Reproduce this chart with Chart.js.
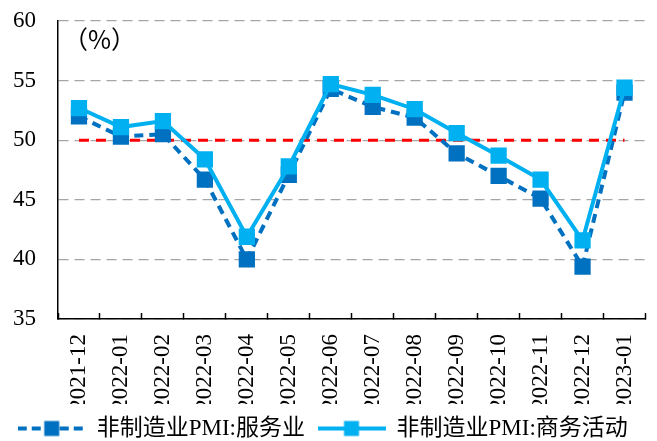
<!DOCTYPE html>
<html>
<head>
<meta charset="utf-8">
<script src="https://cdn.jsdelivr.net/npm/chart.js@4.4.0/dist/chart.umd.min.js"></script>
<style>
  body { margin: 0; background: #fff; }
</style>
</head>
<body>
<canvas id="pmiChart" width="657" height="441"></canvas>
<script>
const months = ["2021-12", "2022-01", "2022-02", "2022-03", "2022-04", "2022-05", "2022-06",
  "2022-07", "2022-08", "2022-09", "2022-10", "2022-11", "2022-12", "2023-01"];
const servicesPMI = [52.0, 50.3, 50.5, 46.7, 40.0, 47.1, 54.3, 52.8, 51.9, 48.9, 47.0, 45.1, 39.4, 54.0];
const businessPMI = [52.7, 51.1, 51.6, 48.4, 41.9, 47.8, 54.7, 53.8, 52.6, 50.6, 48.7, 46.7, 41.6, 54.4];
const baseline = [50, 50, 50, 50, 50, 50, 50, 50, 50, 50, 50, 50, 50, 50];
const yTicks = [35, 40, 45, 50, 55, 60];
const seriesNames = ["非制造业PMI:服务业", "非制造业PMI:商务活动"];
const unitLabel = "（%）";

const darkBlue = "#0070c0";
const lightBlue = "#00b0f0";
const serif = "'Liberation Serif', 'Times New Roman', serif";
const legendFont = "'Liberation Serif', 'Noto Sans CJK SC', serif";

// little line + square picture used as legend symbol
function makeSymbol(color, dash) {
  const c = document.createElement("canvas");
  c.width = 68;
  c.height = 18;
  const g = c.getContext("2d");
  g.strokeStyle = color;
  g.lineWidth = 4;
  g.setLineDash(dash);
  g.beginPath();
  g.moveTo(0, 9);
  g.lineTo(68, 9);
  g.stroke();
  g.fillStyle = color;
  g.fillRect(26.5, 1.5, 15, 15);
  return c;
}

const unitPlugin = {
  id: "unitLabel",
  afterDatasetsDraw(chart) {
    const { ctx, chartArea } = chart;
    ctx.save();
    ctx.font = "25px 'Noto Sans CJK SC', sans-serif";
    ctx.fillStyle = "#000";
    ctx.textBaseline = "middle";
    ctx.fillText(unitLabel, chartArea.left + 5, chartArea.top + 18);
    ctx.restore();
  }
};

const chart = new Chart(document.getElementById("pmiChart"), {
  type: "line",
  data: {
    labels: months,
    datasets: [
      {
        label: seriesNames[0],
        data: servicesPMI,
        borderColor: darkBlue,
        backgroundColor: darkBlue,
        borderWidth: 4,
        borderDash: [9, 6],
        pointStyle: "rect",
        pointRadius: 11.5,
        pointBorderWidth: 0,
        order: 1
      },
      {
        label: seriesNames[1],
        data: businessPMI,
        borderColor: lightBlue,
        backgroundColor: lightBlue,
        borderWidth: 4,
        pointStyle: "rect",
        pointRadius: 11.5,
        pointBorderWidth: 0,
        order: 0
      },
      {
        label: "50",
        data: baseline,
        borderColor: "#ff0000",
        borderWidth: 3,
        borderDash: [10, 7],
        pointRadius: 0,
        order: 2
      }
    ]
  },
  options: {
    responsive: false,
    animation: false,
    devicePixelRatio: 1,
    layout: { padding: { left: 0, right: 11, top: 21, bottom: -9 } },
    plugins: {
      tooltip: { enabled: false },
      legend: {
        position: "bottom",
        labels: {
          usePointStyle: true,
          pointStyleWidth: 67,
          padding: 13,
          color: "#000",
          font: { family: legendFont, size: 23 },
          generateLabels: () => [
            { text: seriesNames[0], pointStyle: makeSymbol(darkBlue, [9, 5]), lineWidth: 0, strokeStyle: "transparent", fillStyle: darkBlue, datasetIndex: 0, hidden: false },
            { text: seriesNames[1], pointStyle: makeSymbol(lightBlue, []), lineWidth: 0, strokeStyle: "transparent", fillStyle: lightBlue, datasetIndex: 1, hidden: false }
          ]
        }
      }
    },
    scales: {
      x: {
        offset: true,
        afterFit(scale) {
          scale.height = 85;
          scale.paddingLeft = 0;
          scale.paddingRight = 0;
        },
        grid: {
          offset: true,
          drawOnChartArea: false,
          drawTicks: true,
          tickLength: -6,
          tickColor: "#000",
          tickWidth: 1.5
        },
        border: { color: "#000", width: 1.5 },
        ticks: {
          color: "#000",
          font: { family: serif, size: 23 },
          minRotation: 90,
          maxRotation: 90,
          autoSkip: false,
          padding: 21
        }
      },
      y: {
        min: yTicks[0],
        max: yTicks[yTicks.length - 1],
        afterFit(scale) {
          scale.width = 58;
          scale.paddingTop = 0;
          scale.paddingBottom = 0;
        },
        grid: { color: "#a6a6a6", lineWidth: 1.3, drawTicks: false },
        border: { color: "#000", width: 1.5, dash: [10, 6] },
        ticks: {
          stepSize: 5,
          color: "#000",
          padding: 22,
          font: { family: serif, size: 23 }
        }
      }
    }
  },
  plugins: [unitPlugin]
});
</script>
</body>
</html>
